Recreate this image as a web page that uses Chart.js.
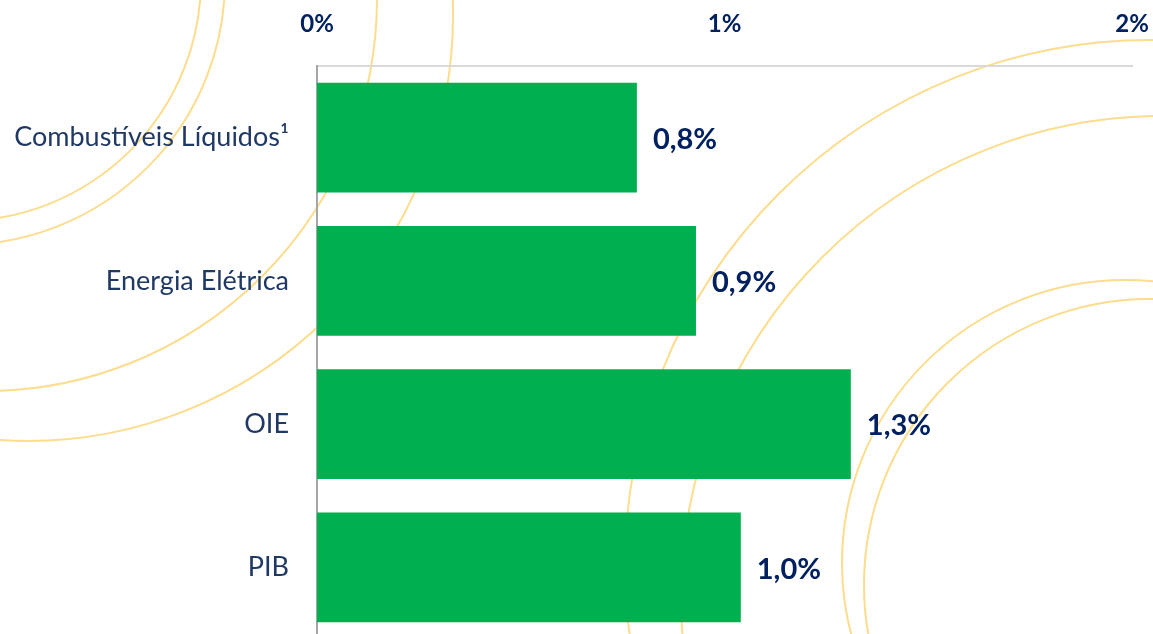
<!DOCTYPE html>
<html lang="pt">
<head>
    <meta charset="UTF-8">
    <title>Crescimento</title>
    <script src="https://cdn.jsdelivr.net/npm/chart.js"></script>
    <style>
        html, body {
            margin: 0;
            padding: 0;
            overflow: hidden;
            background: #ffffff;
        }

        .wrap {
            position: relative;
            width: 1153px;
            height: 640px;
        }
    </style>
</head>
<body>
    <div class="wrap">
        <canvas id="chart"></canvas>
    </div>

    <script>
        // dados
        const categories = ['Combustíveis Líquidos¹', 'Energia Elétrica', 'OIE', 'PIB'];
        const growth = [0.785, 0.93, 1.31, 1.04];
        const xTicks = [0, 1, 2];

        const navy = '#002060';
        const labelBlue = '#1F3864';

        // decorative rings in the background: [cx, cy, r]
        const rings = [
            [-40, -20, 241], [-40, -20, 265],
            [-15, -1, 392], [28, 16, 425],
            [1150, 565, 525], [1163, 598, 482],
            [1125, 563, 283], [1150, 585, 286]
        ];

        const ringsPlugin = {
            id: 'rings',
            beforeDraw(chart) {
                const ctx = chart.ctx;
                ctx.save();
                ctx.strokeStyle = '#FCDD8E';
                ctx.lineWidth = 2;
                rings.forEach(([cx, cy, r]) => {
                    ctx.beginPath();
                    ctx.arc(cx, cy, r, 0, Math.PI * 2);
                    ctx.stroke();
                });
                ctx.restore();
            }
        };

        // value labels to the right of each bar
        const valueLabels = {
            id: 'valueLabels',
            afterDatasetsDraw(chart) {
                const ctx = chart.ctx;
                const meta = chart.getDatasetMeta(0);
                ctx.save();
                ctx.font = 'bold 29px Lato, sans-serif';
                ctx.fillStyle = navy;
                ctx.textAlign = 'left';
                ctx.textBaseline = 'middle';
                meta.data.forEach((bar, i) => {
                    const txt = growth[i].toFixed(1).replace('.', ',') + '%';
                    ctx.fillText(txt, bar.x + 16, bar.y + 2);
                });
                ctx.restore();
            }
        };

        // no extra padding from the tick labels, the layout padding decides
        function noPadding(scale) {
            scale.paddingTop = 0;
            scale.paddingBottom = 0;
            scale.paddingLeft = 0;
            scale.paddingRight = 0;
        }

        const ctx = document.getElementById('chart').getContext('2d');
        new Chart(ctx, {
            type: 'bar',
            data: {
                labels: categories,
                datasets: [{
                    data: growth,
                    backgroundColor: '#00B050',
                    borderWidth: 0,
                    barPercentage: 0.767,
                    categoryPercentage: 1
                }]
            },
            options: {
                indexAxis: 'y',
                responsive: true,
                maintainAspectRatio: false,
                animation: false,
                layout: { padding: { top: 0, right: 21, bottom: 1, left: 0 } },
                plugins: {
                    legend: { display: false },
                    tooltip: { enabled: false }
                },
                scales: {
                    x: {
                        type: 'linear',
                        position: 'top',
                        min: xTicks[0],
                        max: xTicks[xTicks.length - 1],
                        afterBuildTicks: (scale) => {
                            scale.ticks = xTicks.map(v => ({ value: v }));
                        },
                        afterFit: (scale) => { scale.height = 66; noPadding(scale); },
                        grid: { display: false, drawTicks: false },
                        border: { display: true, color: '#D9D9D9', width: 2 },
                        ticks: {
                            padding: 27,
                            color: navy,
                            font: { family: 'Lato', size: 24, weight: 'bold' },
                            callback: (v) => v + '%'
                        }
                    },
                    y: {
                        afterFit: (scale) => { scale.width = 317; noPadding(scale); },
                        grid: { display: false, drawTicks: false },
                        border: { display: true, color: '#A6A6A6', width: 2 },
                        ticks: {
                            padding: 28,
                            color: labelBlue,
                            font: { family: 'Lato', size: 27 }
                        }
                    }
                }
            },
            plugins: [ringsPlugin, valueLabels]
        });
    </script>
</body>
</html>
